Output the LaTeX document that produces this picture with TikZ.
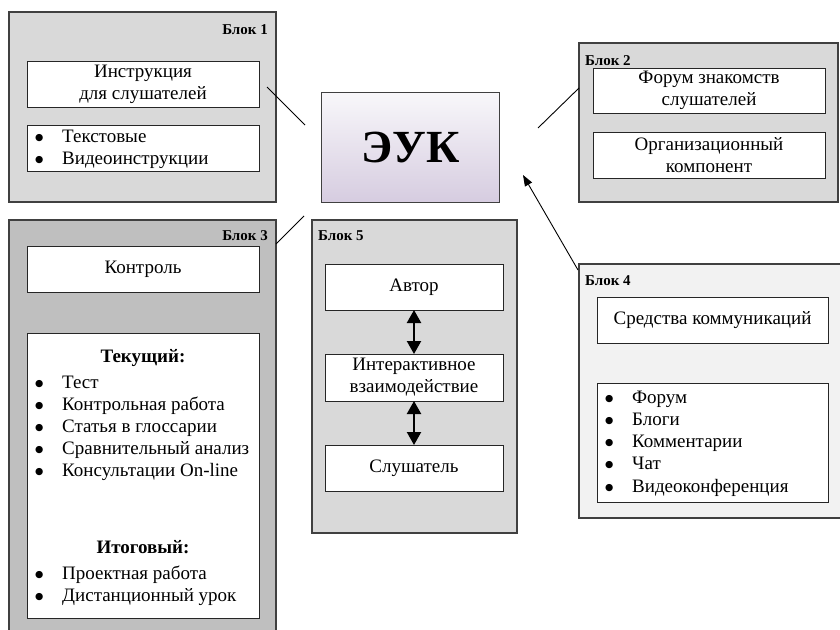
\documentclass[tikz,border=0pt]{standalone}
\usepackage{fontspec}
\setmainfont{Liberation Serif}
\newfontfamily\dgsym{DejaVu Sans}
\usetikzlibrary{arrows.meta}
\definecolor{gmid}{HTML}{D9D9D9}
\definecolor{gdark}{HTML}{BFBFBF}
\definecolor{glight}{HTML}{F2F2F2}
\definecolor{bord}{HTML}{404040}
\definecolor{eukTop}{HTML}{F8F7FA}
\definecolor{eukBot}{HTML}{D6CCE0}
\newcommand{\dgbody}{\fontsize{19}{22}\selectfont}
\newcommand{\dglabel}{\bfseries\fontsize{15}{18}\selectfont}
\newcommand{\dgbul}{\makebox[27pt][l]{\hspace*{0pt}\raisebox{2pt}{\dgsym\fontsize{9.5}{10}\selectfont ●}}}
\begin{document}
\begin{tikzpicture}[x=1pt,y=-1pt,
  blockbox/.style={draw=bord, line width=1.4pt, anchor=north west, inner sep=0pt, outer sep=0pt},
  whitebox/.style={draw=black!85, line width=1pt, fill=white, anchor=north west, inner sep=0pt,
                   outer sep=0pt, align=center, font=\dgbody},
  onebox/.style={whitebox, text height=13pt, text depth=4pt},
  blklabel/.style={font=\dglabel, inner sep=0pt},
  itemtext/.style={font=\dgbody, inner sep=0pt, anchor=base west},
  headtext/.style={font=\dgbody\bfseries, inner sep=0pt, anchor=base},
  conn/.style={draw=black, line width=0.9pt},
  dblarrow/.style={line width=2.2pt, {Triangle[length=13pt,width=14pt]}-{Triangle[length=13pt,width=14pt]}},
  toeuk/.style={line width=0.9pt, -{Triangle[length=11pt,width=8pt]}}
]
\useasboundingbox (0,0) rectangle (840,629);
\begin{scope}
\clip (0,0) rectangle (840,629);

% ---------- Block 1 ----------
\node[blockbox, fill=gmid, minimum width=267pt, minimum height=190pt] (b1) at (9,12) {};
\node[blklabel, anchor=base east] (b1lab) at (268,34) {Блок 1};
\node[whitebox, minimum width=232pt, minimum height=46pt] (b1i) at (27,61) {Инструкция\\для слушателей};
\node[whitebox, minimum width=232pt, minimum height=46pt] (b1l) at (27,125) {};
\node[itemtext] (b1l1) at (35,142) {\dgbul Текстовые};
\node[itemtext] (b1l2) at (35,164) {\dgbul Видеоинструкции};

% ---------- Block 2 ----------
\node[blockbox, fill=gmid, minimum width=259pt, minimum height=159pt] (b2) at (579,43) {};
\node[blklabel, anchor=base west] (b2lab) at (585,65) {Блок 2};
\node[whitebox, minimum width=232pt, minimum height=45pt] (b2a) at (593,68) {Форум знакомств\\слушателей};
\node[whitebox, minimum width=232pt, minimum height=46pt] (b2b) at (593,132) {Организационный\\компонент};

% ---------- Block 3 ----------
\node[blockbox, fill=gdark, minimum width=267pt, minimum height=420pt] (b3) at (9,220) {};
\node[blklabel, anchor=base east] (b3lab) at (268,240) {Блок 3};
\node[onebox, minimum width=232pt, minimum height=46pt] (b3a) at (27,246) {Контроль};
\node[whitebox, minimum width=232pt, minimum height=285pt] (b3l) at (27,333) {};
\node[headtext] (b3h1) at (143,362) {Текущий:};
\node[itemtext] (b3i1) at (35,388) {\dgbul Тест};
\node[itemtext] (b3i2) at (35,410) {\dgbul Контрольная работа};
\node[itemtext] (b3i3) at (35,432) {\dgbul Статья в глоссарии};
\node[itemtext] (b3i4) at (35,454) {\dgbul Сравнительный анализ};
\node[itemtext] (b3i5) at (35,476) {\dgbul Консультации On-line};
\node[headtext] (b3h2) at (143,553) {Итоговый:};
\node[itemtext] (b3j1) at (35,579) {\dgbul Проектная работа};
\node[itemtext] (b3j2) at (35,601) {\dgbul Дистанционный урок};

% ---------- Block 5 ----------
\node[blockbox, fill=gmid, minimum width=205pt, minimum height=313pt] (b5) at (312,220) {};
\node[blklabel, anchor=base west] (b5lab) at (318,240) {Блок 5};
\node[onebox, minimum width=178pt, minimum height=46pt] (b5a) at (325,264) {Автор};
\node[whitebox, minimum width=178pt, minimum height=47pt] (b5b) at (325,354) {Интерактивное\\взаимодействие};
\node[onebox, minimum width=178pt, minimum height=46pt] (b5c) at (325,445) {Слушатель};
\draw[dblarrow] (b5a.south) -- (b5b.north);
\draw[dblarrow] (b5b.south) -- (b5c.north);

% ---------- Block 4 ----------
\node[blockbox, fill=glight, minimum width=275pt, minimum height=254pt] (b4) at (579,264) {};
\node[blklabel, anchor=base west] (b4lab) at (585,285) {Блок 4};
\node[onebox, minimum width=231pt, minimum height=46pt] (b4a) at (597,297) {Средства коммуникаций};
\node[whitebox, minimum width=231pt, minimum height=119pt] (b4l) at (597,383) {};
\node[itemtext] (b4i1) at (605,403) {\dgbul Форум};
\node[itemtext] (b4i2) at (605,425) {\dgbul Блоги};
\node[itemtext] (b4i3) at (605,447) {\dgbul Комментарии};
\node[itemtext] (b4i4) at (605,469) {\dgbul Чат};
\node[itemtext] (b4i5) at (605,492) {\dgbul Видеоконференция};

% ---------- EUK ----------
\node[draw=bord, line width=1.4pt, top color=eukTop, bottom color=eukBot, anchor=north west,
      inner sep=0pt, minimum width=178pt, minimum height=110pt,
      font=\bfseries\fontsize{46}{50}\selectfont] (euk) at (321,92) {ЭУК};

% ---------- connectors ----------
\coordinate (c1a) at (267,87);
\coordinate (c1b) at (305,125);
\draw[conn] (c1a) -- (c1b);
\coordinate (c2a) at (538,128);
\coordinate (c2b) at (579,88);
\draw[conn] (c2a) -- (c2b);
\coordinate (c3a) at (276,244);
\coordinate (c3b) at (304,216);
\draw[conn] (c3a) -- (c3b);
\coordinate (c4a) at (578,270);
\coordinate (c4b) at (523,175);
\draw[toeuk] (c4a) -- (c4b);
\end{scope}
\end{tikzpicture}
\end{document}
